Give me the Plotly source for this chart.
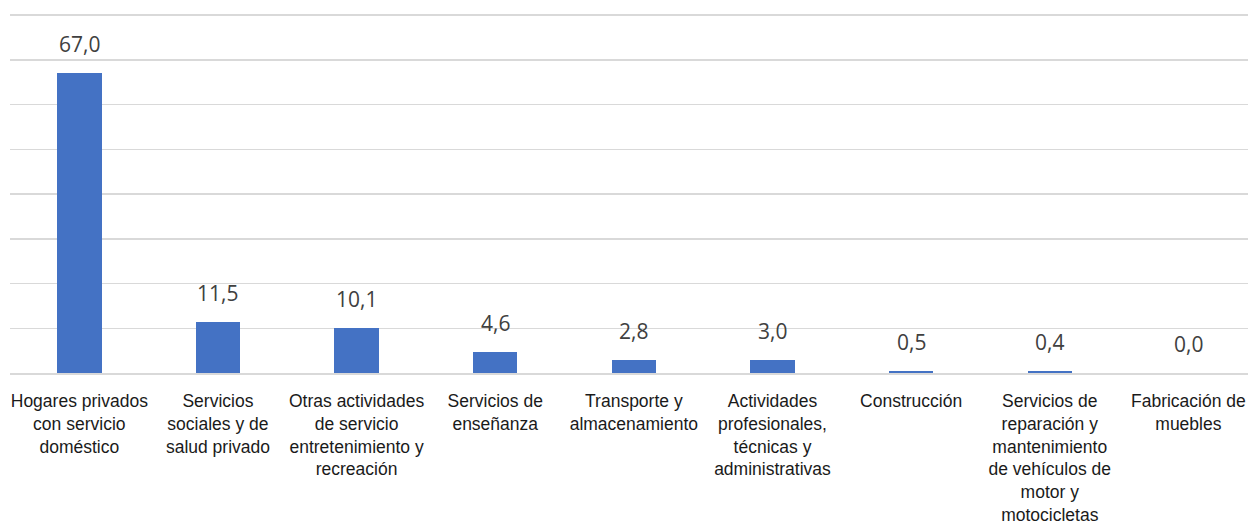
import plotly.graph_objects as go

categories = [
    "Hogares privados<br>con servicio<br>doméstico",
    "Servicios<br>sociales y de<br>salud privado",
    "Otras actividades<br>de servicio<br>entretenimiento y<br>recreación",
    "Servicios de<br>enseñanza",
    "Transporte y<br>almacenamiento",
    "Actividades<br>profesionales,<br>técnicas y<br>administrativas",
    "Construcción",
    "Servicios de<br>reparación y<br>mantenimiento<br>de vehículos de<br>motor y<br>motocicletas",
    "Fabricación de<br>muebles",
]
values = [67.0, 11.5, 10.1, 4.6, 2.8, 3.0, 0.5, 0.4, 0.0]
value_labels = ["67,0", "11,5", "10,1", "4,6", "2,8", "3,0", "0,5", "0,4", "0,0"]

fig = go.Figure()
fig.add_trace(go.Bar(
    x=list(range(len(categories))),
    y=values,
    width=0.32,
    marker=dict(color="#4472C4", line=dict(width=0)),
    hoverinfo="skip",
))

for i, (v, lab) in enumerate(zip(values, value_labels)):
    fig.add_annotation(
        x=i, y=v, text=lab, showarrow=False,
        xanchor="center", yanchor="bottom", yshift=13,
        font=dict(family="Open Sans", size=21, color="#404040"),
    )

fig.update_layout(
    template="none",
    width=1248, height=529,
    margin=dict(l=10, r=0, t=13, b=156, pad=0),
    paper_bgcolor="white",
    plot_bgcolor="white",
    showlegend=False,
    bargap=0,
    xaxis=dict(
        tickmode="array",
        tickvals=list(range(len(categories))),
        ticktext=categories,
        range=[-0.5, 8.43],
        showgrid=False,
        zeroline=False,
        showline=True,
        linecolor="#D9D9D9",
        linewidth=2,
        ticks="outside",
        ticklen=11,
        tickcolor="rgba(0,0,0,0)",
        tickangle=0,
        automargin=False,
        tickfont=dict(family="Liberation Sans, Arial", size=17.5, color="#1a1a1a"),
    ),
    yaxis=dict(
        range=[0, 80.45],
        tickmode="array",
        tickvals=[10, 20, 30, 40, 50, 60, 70, 80],
        showgrid=True,
        gridcolor="#D9D9D9",
        gridwidth=1.5,
        zeroline=False,
        showticklabels=False,
        ticks="",
        showline=False,
        automargin=False,
    ),
)

fig.write_html(
    "out.html",
    config={"displayModeBar": False, "staticPlot": True},
    post_script="document.body.style.margin='0';document.body.style.overflow='hidden';",
)
